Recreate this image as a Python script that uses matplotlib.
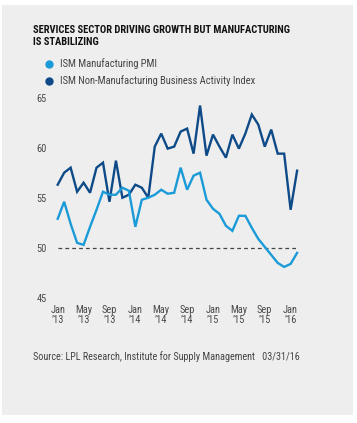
import matplotlib
matplotlib.use("Agg")
import matplotlib.pyplot as plt
from matplotlib.patches import Rectangle

months = ["Jan\n’13", "May\n’13", "Sep\n’13", "Jan\n’14", "May\n’14", "Sep\n’14",
          "Jan\n’15", "May\n’15", "Sep\n’15", "Jan\n’16"]

manufacturing = [52.9, 54.6, 52.4, 50.5, 50.3, 52.1, 53.8, 55.6, 55.3, 55.3, 56.0, 55.7,
                 52.1, 54.8, 55.0, 55.3, 55.8, 55.4, 55.5, 58.0, 55.8, 57.2, 57.5, 54.8,
                 53.9, 53.4, 52.2, 51.7, 53.2, 53.2, 52.0, 50.9, 50.1, 49.3, 48.5, 48.1,
                 48.4, 49.5]
non_manufacturing = [56.3, 57.5, 58.0, 55.6, 56.5, 55.5, 58.0, 58.5, 54.6, 58.7, 55.0, 55.3,
                     56.3, 56.0, 55.0, 60.1, 61.4, 59.9, 60.1, 61.6, 61.9, 59.4, 64.2, 59.2,
                     61.3, 60.1, 59.0, 61.3, 59.9, 61.4, 63.3, 62.3, 60.1, 61.8, 59.4, 59.4,
                     53.8, 57.7]
yticks = [45, 50, 55, 60, 65]

FONT = ['Liberation Sans Narrow', 'Roboto Condensed', 'DejaVu Sans']
plt.rcParams['font.family'] = FONT

W, H = 357, 423
fig = plt.figure(figsize=(W/100, H/100), dpi=100)
fig.patch.set_facecolor('white')
fig.patches.append(Rectangle((2/W, 1-415/H), 351/W, 410/H, transform=fig.transFigure,
                             facecolor='#eeeeee', edgecolor='none', zorder=-10))

ax = fig.add_axes([57.7/W, 1-298/H, (297.1-57.7)/W, (298-97.5)/H])
ax.patch.set_alpha(0)
x = list(range(len(manufacturing)))
light = '#1b9ad8'
dark = '#0d4a87'
ax.plot(x, non_manufacturing, color=dark, lw=1.7, solid_joinstyle='miter', clip_on=False)
ax.plot(x, manufacturing, color=light, lw=1.7, solid_joinstyle='miter', clip_on=False)
ax.axhline(50, color='#444444', lw=0.9, ls=(0, (3, 2.5)), zorder=0)

ax.set_xlim(0, 37)
ax.set_ylim(45, 65)
ax.set_yticks(yticks)
ax.set_yticklabels([str(v) for v in yticks])
ax.set_xticks(list(range(0, 37, 4)))
ax.set_xticklabels(months, linespacing=1.05)
for s in ax.spines.values():
    s.set_visible(False)
ax.tick_params(axis='both', length=0, labelsize=7.5, labelcolor='#4a4a4a')
ax.tick_params(axis='y', pad=8)
ax.tick_params(axis='x', pad=5)

fig.text(33/W, 1-30/H, "SERVICES SECTOR DRIVING GROWTH BUT MANUFACTURING",
         fontsize=7.6, fontweight='bold', color='#111111', va='center')
fig.text(33/W, 1-42/H, "IS STABILIZING",
         fontsize=7.6, fontweight='bold', color='#111111', va='center')

for yy, col, lab in [(64, light, "ISM Manufacturing PMI"),
                     (81, dark, "ISM Non-Manufacturing Business Activity Index")]:
    fig.lines.append(plt.Line2D([49/W], [1-yy/H], marker='o', ms=5, color=col,
                                transform=fig.transFigure, ls='none'))
    fig.text(60/W, 1-yy/H, lab, fontsize=7.6, color='#444444', va='center')

fig.text(33/W, 1-357/H, "Source: LPL Research, Institute for Supply Management   03/31/16",
         fontsize=7.3, color='#444444', va='center')

fig.savefig("out.png", dpi=100, facecolor='white')
